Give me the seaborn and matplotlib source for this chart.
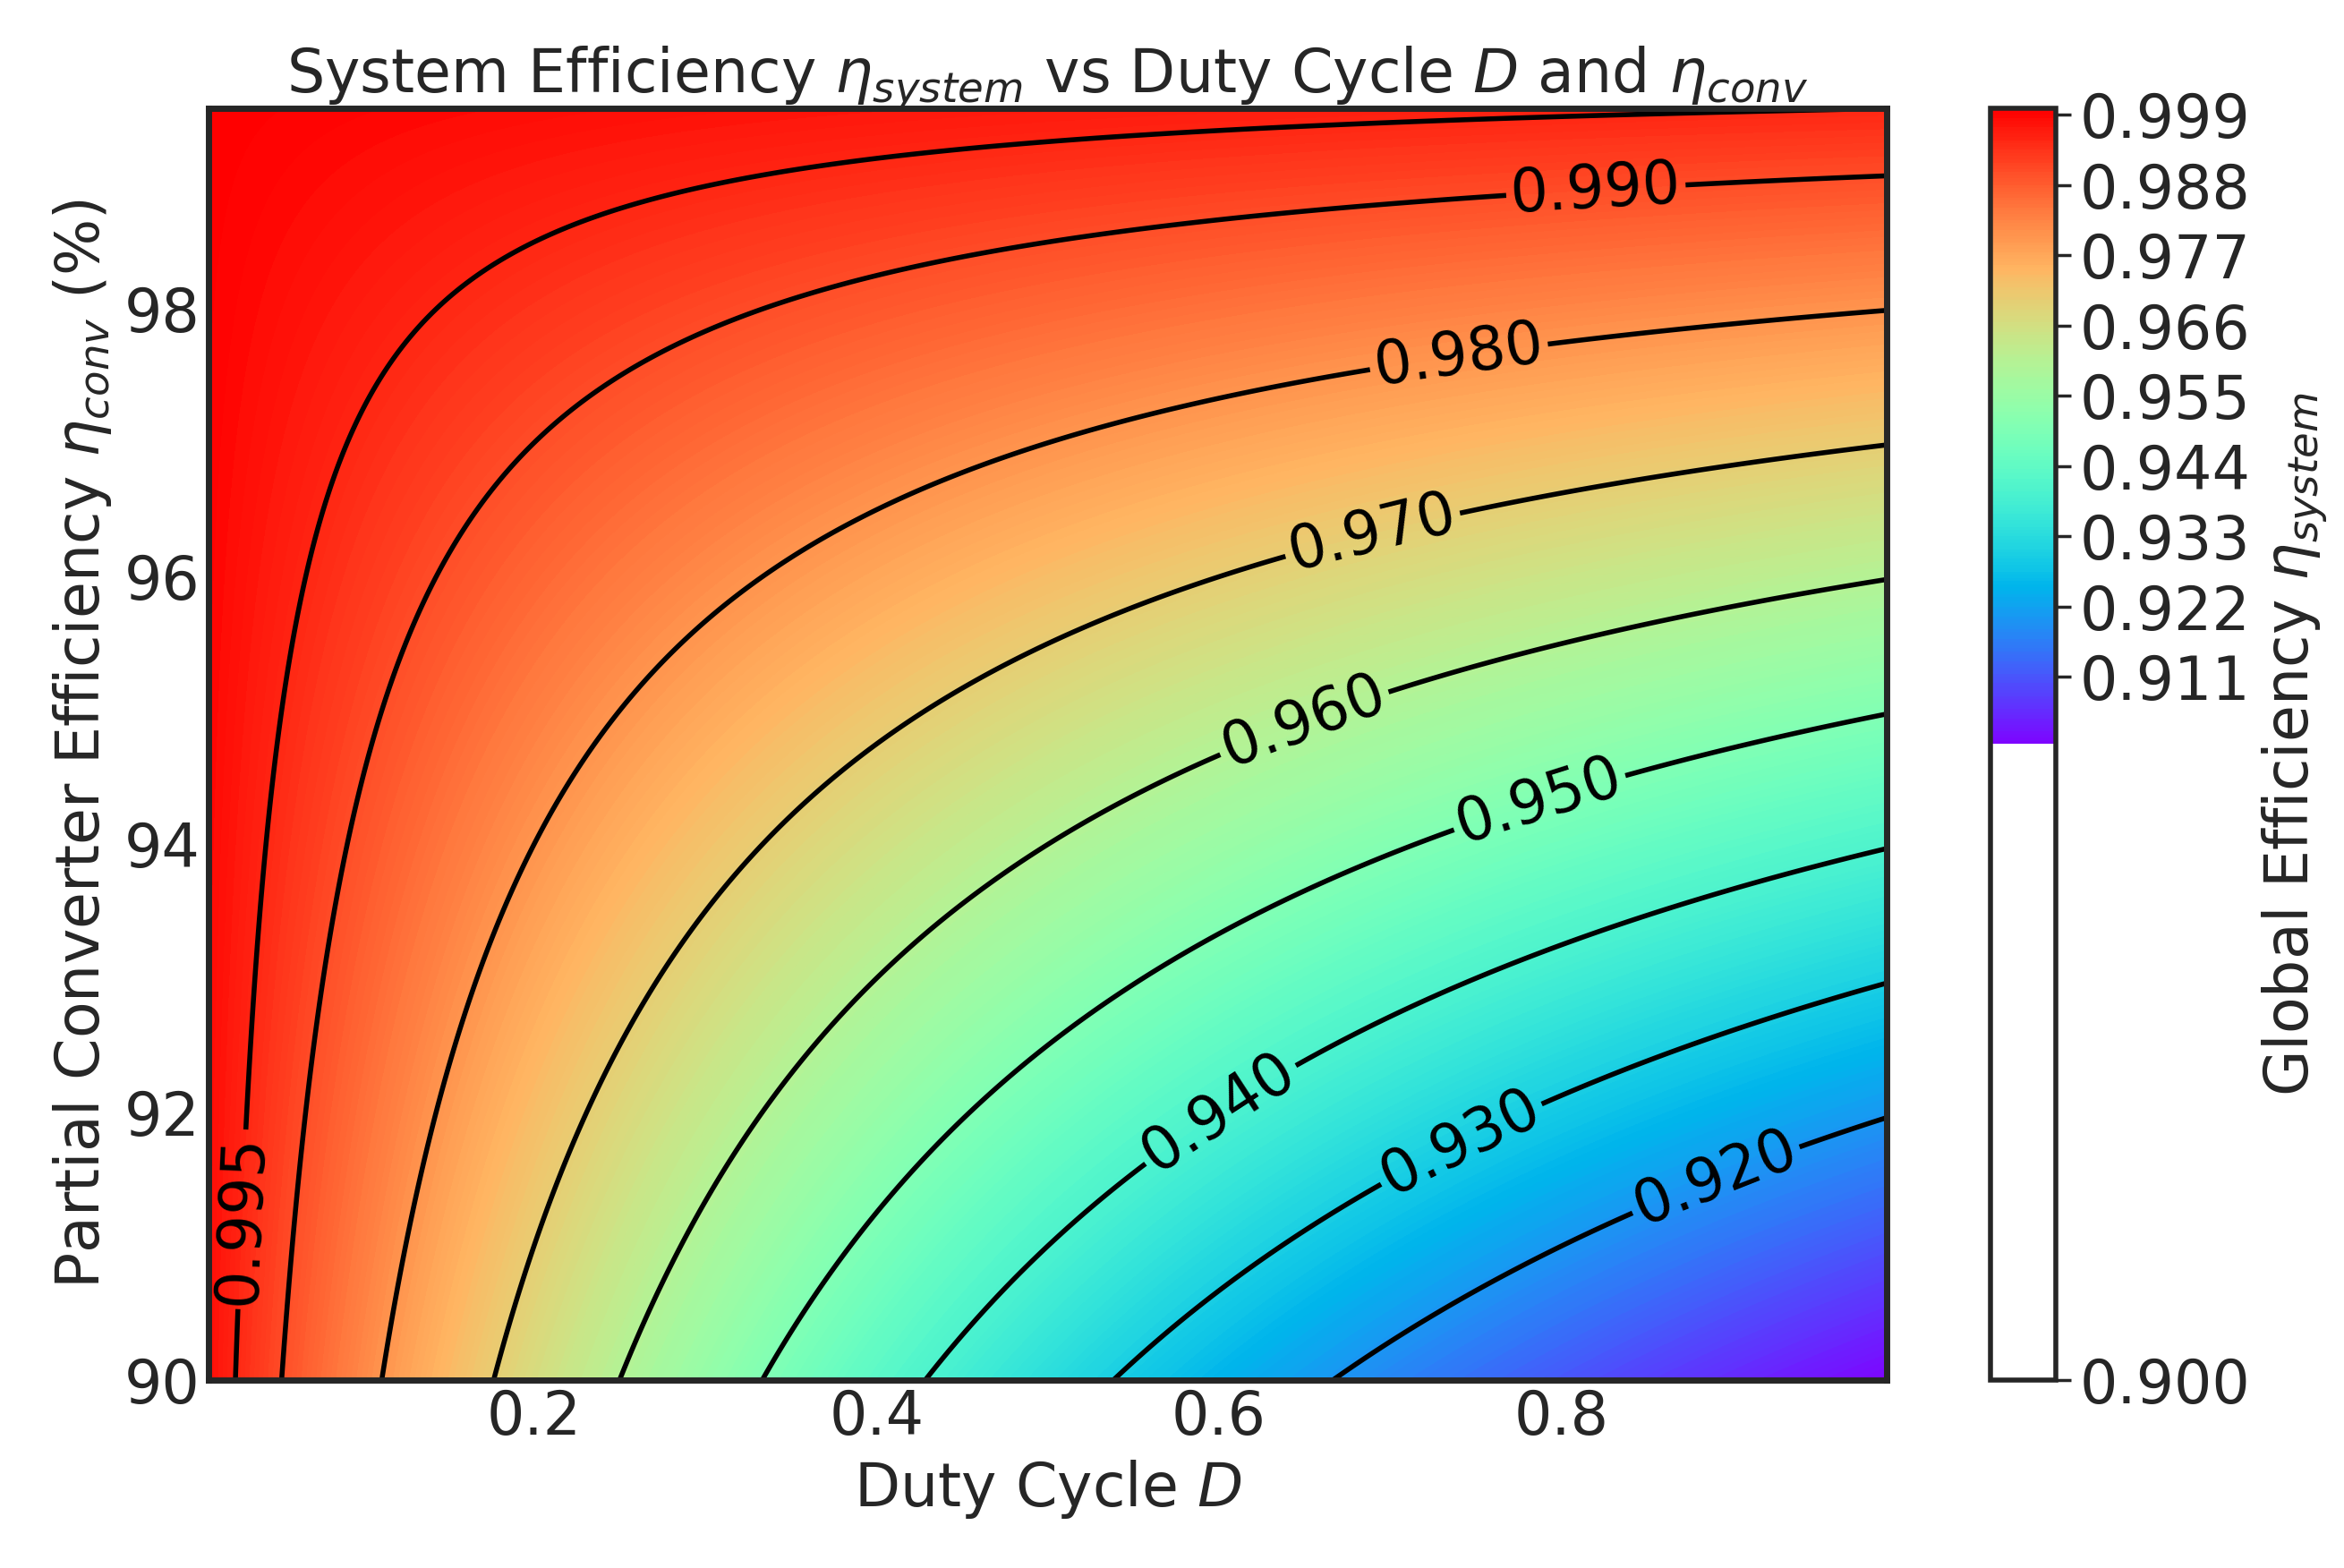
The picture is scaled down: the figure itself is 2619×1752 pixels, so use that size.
import numpy as np
import matplotlib
matplotlib.use("Agg")
import matplotlib.pyplot as plt
import seaborn as sns
from matplotlib.ticker import FormatStrFormatter

sns.set_theme(style="white", font="DejaVu Sans")

duty_range = [0.01, 0.99]
eta_conv_range = [90.0, 99.5]
contour_levels = [0.92, 0.93, 0.94, 0.95, 0.96, 0.97, 0.98, 0.99, 0.995]
x_ticks = [0.2, 0.4, 0.6, 0.8]
y_ticks = [90, 92, 94, 96, 98]
cbar_ticks = [0.900, 0.911, 0.922, 0.933, 0.944, 0.955, 0.966, 0.977, 0.988, 0.999]
label_D = [0.89, 0.74, 0.60, 0.79, 0.65, 0.69, 0.74, 0.82, 0.028]
label_eta = [91.5, 91.8, 92.0, 94.2, 94.9, 96.3, 97.65, 98.9, 91.2]

D = np.linspace(duty_range[0], duty_range[1], 400)
E = np.linspace(eta_conv_range[0], eta_conv_range[1], 400)
DD, EE = np.meshgrid(D, E)
Z = 1 - 2 * DD * (1 - EE / 100) / (1 + DD)

FS = 24
fig = plt.figure(figsize=(13.095, 8.76), dpi=200)
ax = fig.add_axes([0.089, 0.12, 0.716, 0.811])
cax = fig.add_axes([0.849, 0.12, 0.028, 0.811])

cf = ax.contourf(DD, EE, Z, levels=200, cmap="rainbow", vmin=0.9, vmax=Z.max())
cs = ax.contour(DD, EE, Z, levels=contour_levels, colors="black", linewidths=2)
ax.clabel(cs, fmt="%.3f", fontsize=FS, inline=True,
          manual=list(zip(label_D, label_eta)))

ax.set_xticks(x_ticks)
ax.set_yticks(y_ticks)
ax.grid(True, color="#bbbbbb", linestyle="--", linewidth=1)
ax.tick_params(labelsize=FS, direction="in", length=6, width=1.5, left=True, bottom=True)
for s in ax.spines.values():
    s.set_linewidth(2.5)
ax.set_xlabel("Duty Cycle $D$", fontsize=FS)
ax.set_ylabel(r"Partial Converter Efficiency $\eta_{conv}$ (%)", fontsize=FS)
ax.set_title(r"System Efficiency $\eta_{system}$ vs Duty Cycle $D$ and $\eta_{conv}$", fontsize=FS)

cb = fig.colorbar(cf, cax=cax)
cb.set_ticks(cbar_ticks)
cb.ax.yaxis.set_major_formatter(FormatStrFormatter("%.3f"))
cb.ax.tick_params(labelsize=FS)
cb.set_label(r"Global Efficiency $\eta_{system}$", fontsize=FS)
cb.outline.set_linewidth(2)

fig.savefig("out.png", dpi=200)
